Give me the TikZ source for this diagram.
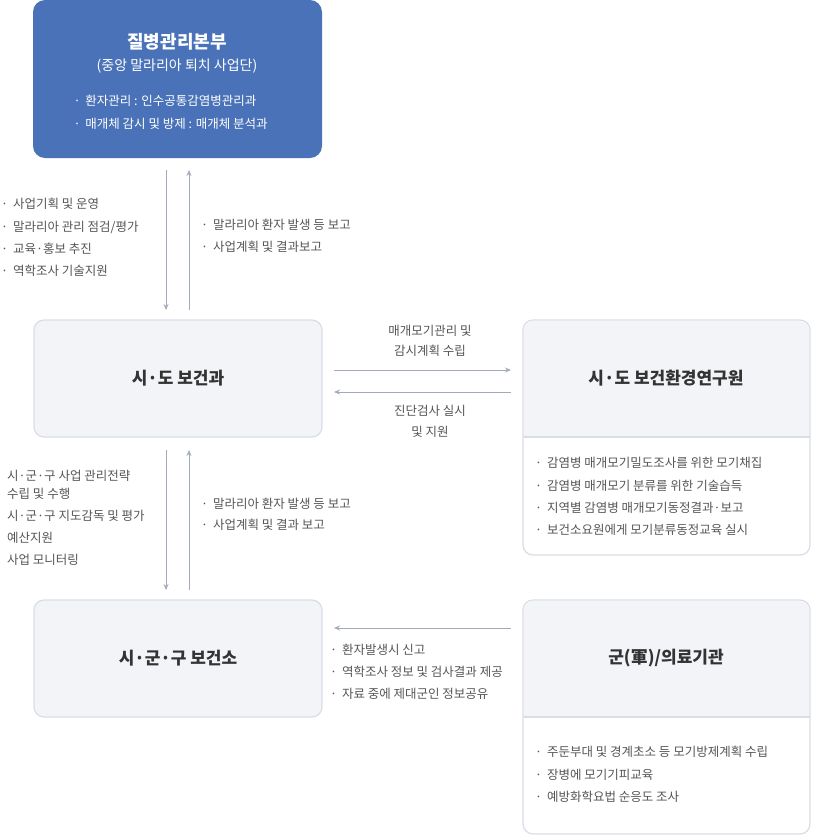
\documentclass[tikz,border=0pt]{standalone}
\usepackage{fontspec}
\setmainfont{Noto Sans CJK KR}
\usetikzlibrary{arrows.meta}
\definecolor{topblue}{HTML}{4A72B8}
\definecolor{boxfill}{HTML}{F3F4F8}
\definecolor{boxline}{HTML}{D9DDE6}
\definecolor{arr}{HTML}{A3AAB8}
\definecolor{txt}{HTML}{555555}
\definecolor{ttl}{HTML}{333333}
\tikzset{
 box/.style={draw=boxline,line width=1.2pt,fill=boxfill,rounded corners=10pt},
 conn/.style={draw=arr,line width=1pt,-{Stealth[length=6pt,width=5pt]}},
 sm/.style={font=\fontsize{12.5pt}{15pt}\selectfont,text=txt,inner sep=0pt},
 title/.style={font=\fontsize{17pt}{20pt}\selectfont\bfseries,text=ttl,inner sep=0pt}
}
\begin{document}
\begin{tikzpicture}[x=1pt,y=-1pt]
\useasboundingbox (0,0) rectangle (812,836);
% top
\fill[topblue,rounded corners=12pt] (33,0) rectangle (322,158);
\node[font=\fontsize{18pt}{20pt}\selectfont\bfseries,text=white] (top) at (177,42) {질병관리본부};
\node[font=\fontsize{14pt}{16pt}\selectfont,text=white] at (177,66) {(중앙 말라리아 퇴치 사업단)};
\node[font=\fontsize{12.5pt}{15pt}\selectfont,text=white,anchor=west] at (70,101) {·\, 환자관리 : 인수공통감염병관리과};
\node[font=\fontsize{12.5pt}{15pt}\selectfont,text=white,anchor=west] at (70,124) {·\, 매개체 감시 및 방제 : 매개체 분석과};
% sido
\draw[box] (34,320) rectangle (322,437);
\node[title] at (178,378) {시·도 보건과};
% right 1
\draw[box,fill=white] (523,320) rectangle (810,555);
\fill[boxfill,rounded corners=10pt] (524,321) rectangle (809,436);
\fill[boxfill] (524,400) rectangle (809,436);
\draw[boxline,line width=1.2pt] (523,437) -- (810,437);
\node[title] at (666,378) {시·도 보건환경연구원};
\foreach \y/\t in {463/감염병 매개모기밀도조사를 위한 모기채집,486/감염병 매개모기 분류를 위한 기술습득,508/지역별 감염병 매개모기동정결과·보고,530/보건소요원에게 모기분류동정교육 실시}
  \node[sm,anchor=west] at (535,\y) {·\, \t};
% sigungu
\draw[box] (34,600) rectangle (322,717);
\node[title] at (178,658) {시·군·구 보건소};
% right 2
\draw[box,fill=white] (523,600) rectangle (810,834);
\fill[boxfill,rounded corners=10pt] (524,601) rectangle (809,716);
\fill[boxfill] (524,680) rectangle (809,716);
\draw[boxline,line width=1.2pt] (523,717) -- (810,717);
\node[title] at (666,658) {군(軍)/의료기관};
\foreach \y/\t in {752/주둔부대 및 경계초소 등 모기방제계획 수립,775/장병에 모기기피교육,797/예방화학요법 순응도 조사}
  \node[sm,anchor=west] at (535,\y) {·\, \t};
% arrows
\coordinate (a1) at (166,170); \coordinate (a2) at (166,310);
\coordinate (b1) at (189,310); \coordinate (b2) at (189,170);
\draw[conn] (a1) -- (a2); \draw[conn] (b1) -- (b2);
\coordinate (c1) at (166,450); \coordinate (c2) at (166,590);
\coordinate (d1) at (189,590); \coordinate (d2) at (189,450);
\draw[conn] (c1) -- (c2); \draw[conn] (d1) -- (d2);
\coordinate (e1) at (334,370); \coordinate (e2) at (511,370);
\coordinate (f1) at (511,392); \coordinate (f2) at (334,392);
\draw[conn] (e1) -- (e2); \draw[conn] (f1) -- (f2);
\coordinate (g1) at (511,628); \coordinate (g2) at (334,628);
\draw[conn] (g1) -- (g2);
% labels
\foreach \y/\t in {204/사업기획 및 운영,227/{말라리아 관리 점검/평가},249/교육·홍보 추진,271/역학조사 기술지원}
  \node[sm,anchor=west] at (1,\y) {·\, \t};
\foreach \y/\t in {225/말라리아 환자 발생 등 보고,247/사업계획 및 결과보고}
  \node[sm,anchor=west] at (201,\y) {·\, \t};
\node[sm] at (430,331) {매개모기관리 및};
\node[sm] at (430,351) {감시계획 수립};
\node[sm] at (430,411) {진단검사 실시};
\node[sm] at (430,432) {및 지원};
\foreach \y/\t in {476/시·군·구 사업 관리전략,494/수립 및 수행,516/시·군·구 지도감독 및 평가,538/예산지원,560/사업 모니터링}
  \node[sm,anchor=west] at (7,\y) {\t};
\foreach \y/\t in {504/말라리아 환자 발생 등 보고,525/사업계획 및 결과 보고}
  \node[sm,anchor=west] at (201,\y) {·\, \t};
\foreach \y/\t in {650/환자발생시 신고,672/역학조사 정보 및 검사결과 제공,694/자료 중에 제대군인 정보공유}
  \node[sm,anchor=west] at (330,\y) {·\, \t};
\end{tikzpicture}
\end{document}
